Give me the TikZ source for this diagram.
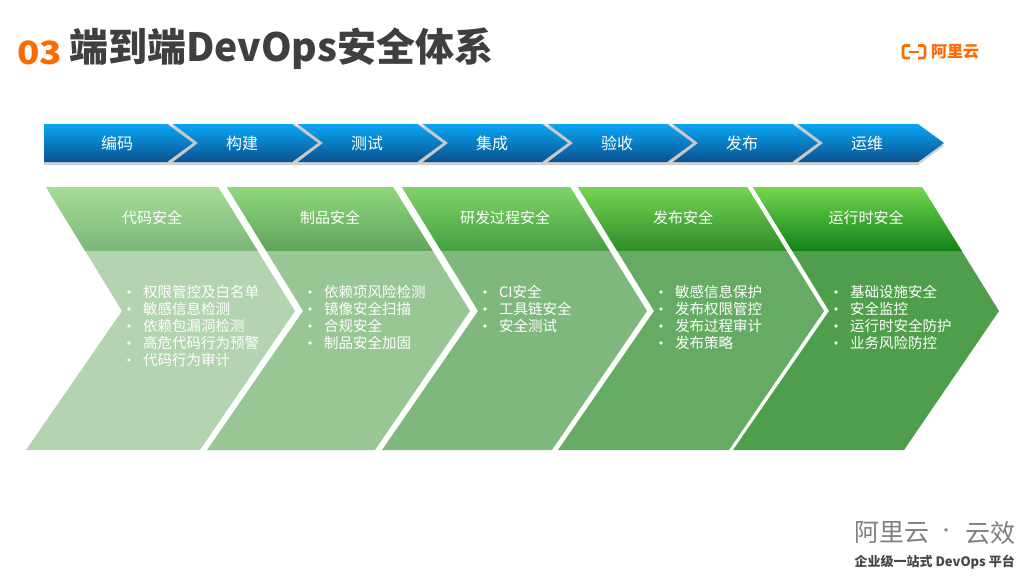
\documentclass[tikz,border=0pt]{standalone}
\usepackage{fontspec}
\setmainfont{Noto Sans CJK SC}
\definecolor{orng}{HTML}{FF6A00}
\definecolor{ttl}{HTML}{3F3F3F}
\definecolor{bluetop}{HTML}{08A6F4}
\definecolor{bluebot}{HTML}{0A5290}
\definecolor{sepgray}{HTML}{C4C4C4}
\definecolor{hA1}{HTML}{A6DC95}\definecolor{hB1}{HTML}{7CB87A}\definecolor{bd1}{HTML}{B3D3B1}
\definecolor{hA2}{HTML}{90D87C}\definecolor{hB2}{HTML}{5FA55B}\definecolor{bd2}{HTML}{98C694}
\definecolor{hA3}{HTML}{7FD467}\definecolor{hB3}{HTML}{46A041}\definecolor{bd3}{HTML}{7FB87C}
\definecolor{hA4}{HTML}{74D453}\definecolor{hB4}{HTML}{2F8F29}\definecolor{bd4}{HTML}{66AB63}
\definecolor{hA5}{HTML}{72D84E}\definecolor{hB5}{HTML}{12821A}\definecolor{bd5}{HTML}{4E9E4B}
\tikzset{
  bartxt/.style={text=white, font=\fontsize{16}{16}\selectfont, inner sep=0pt},
  headtxt/.style={text=white, font=\fontsize{15}{15}\selectfont, inner sep=0pt},
  itemtxt/.style={text=white, font=\fontsize{14.5}{14.5}\selectfont, inner sep=0pt, anchor=west},
  sepline/.style={draw=sepgray, line width=1pt, line join=miter}
}
\newcommand\bulletlist[3]{%
  \foreach \t [count=\k] in {#3} {%
    \fill[white] ({#2+83},{275+17*\k}) circle (1.8);
    \node[itemtxt] (#1\k) at ({#2+97},{275+17*\k}) {\t};
  }}
\begin{document}
\begin{tikzpicture}[x=1pt,y=-1pt]
\useasboundingbox (0,0) rectangle (1024,576);
\fill[white] (0,0) rectangle (1024,576);

% title
\node[anchor=base west, inner sep=0pt, text=orng, font=\fontsize{32}{32}\selectfont\bfseries, xscale=1.15] (num) at (17,64) {03};
\node[anchor=base west, inner sep=0pt, text=ttl, font=\fontsize{39}{39}\selectfont\bfseries] (title) at (69,61) {端到端DevOps安全体系};

% logo
\draw[orng, line width=2.6pt, rounded corners=2pt] (910,45.5) -- (903,45.5) -- (903,58) -- (910,58);
\draw[orng, line width=2.6pt, rounded corners=2pt] (918,45.5) -- (925,45.5) -- (925,58) -- (918,58);
\draw[orng, line width=2pt] (909,51.8) -- (919,51.8);
\node[anchor=west, inner sep=0pt, text=orng, font=\fontsize{16}{16}\selectfont\bfseries] (logo) at (931,52) {阿里云};

% blue bar shadow
\fill[black!18] (44,127) -- (918,127) -- (944,146) -- (918,165) -- (44,165) -- cycle;
% blue bar segments
\shade[top color=bluetop, bottom color=bluebot] (44,124) -- (168,124) -- (194,143) -- (168,162) -- (44,162) -- cycle;
\draw[sepline] (168,124) -- (194,143) -- (168,162);
\foreach \i in {1,...,6}{
  \pgfmathsetmacro\tl{47+125*\i}
  \pgfmathsetmacro\tr{168+125*\i}
  \shade[top color=bluetop, bottom color=bluebot] (\tl,124) -- (\tr,124) -- ({\tr+26},143) -- (\tr,162) -- (\tl,162) -- ({\tl+25},143) -- cycle;
  \draw[sepline] (\tl,124) -- ({\tl+25},143) -- (\tl,162);
  \ifnum\i<6 \draw[sepline] (\tr,124) -- ({\tr+26},143) -- (\tr,162);\fi
}
\foreach \lab [count=\j from 0] in {编码,构建,测试,集成,验收,发布,运维}{
  \node[bartxt] (bar\j) at ({117+125*\j},143) {\lab};
}

% green chevrons
\foreach \i/\tl/\tr/\hc/\head in {1/46/218/152/代码安全, 2/227/393/330/制品安全, 3/402/570/505/研发过程安全, 4/578/747/683/发布安全, 5/753/922/866/运行时安全}{
  \fill[bd\i] (\tl,187) -- (\tr,187) -- ({\tr+77},311) -- ({\tr-18},450) -- ({\tl-20},450) -- ({\tl+76},311) -- cycle;
  \begin{scope}
    \clip (\tl,187) -- (\tr,187) -- ({\tr+77},311) -- ({\tr-18},450) -- ({\tl-20},450) -- ({\tl+76},311) -- cycle;
    \shade[top color=hA\i, bottom color=hB\i] ({\tl-30},187) rectangle ({\tr+80},250);
  \end{scope}
  \node[headtxt] (head\i) at (\hc,218) {\head};
}
\bulletlist{ia}{46}{权限管控及白名单,敏感信息检测,依赖包漏洞检测,高危代码行为预警,代码行为审计}
\bulletlist{ib}{227}{依赖项风险检测,镜像安全扫描,合规安全,制品安全加固}
\bulletlist{ic}{402}{CI安全,工具链安全,安全测试}
\bulletlist{id}{578}{敏感信息保护,发布权限管控,发布过程审计,发布策略}
\bulletlist{ie}{753}{基础设施安全,安全监控,运行时安全防护,业务风险防控}

% bottom right brand
\node[anchor=west, inner sep=0pt, text=black!50, font=\fontsize{25}{25}\selectfont] (br1) at (854,533) {阿里云};
\node[inner sep=0pt, text=black!50, font=\fontsize{16}{16}\selectfont] (br2) at (946,533) {·};
\node[anchor=east, inner sep=0pt, text=black!50, font=\fontsize{25}{25}\selectfont] (br3) at (1016,533) {云效};
\node[anchor=east, inner sep=0pt, text=black!72, font=\fontsize{13}{13}\selectfont\bfseries] (br4) at (1015,562) {企业级一站式 DevOps 平台};
\end{tikzpicture}
\end{document}
